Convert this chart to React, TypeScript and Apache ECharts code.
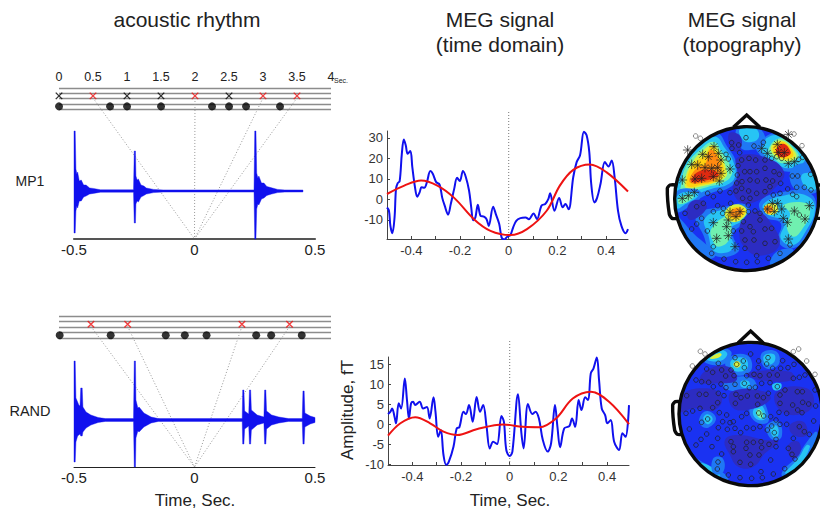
import React, { useEffect, useRef } from "react";
import * as echarts from "echarts";

const font = "Liberation Sans";
const scoreTicks = [0, 0.5, 1, 1.5, 2, 2.5, 3, 3.5, 4];
const waveTicks = [-0.5, 0, 0.5];
const megXLabels = [-0.4, -0.2, 0, 0.2, 0.4];
const megXTicks = [-0.4, -0.3, -0.2, -0.1, 0, 0.1, 0.2, 0.3, 0.4];
const meg1YLabels = [-10, 0, 10, 20, 30];
const meg2YLabels = [-10, -5, 0, 5, 10, 15];

const mp1Black = [0, 1, 1.5, 2.5];
const mp1Red = [0.5, 2, 3, 3.5];
const mp1Dots = [0, 0.75, 1, 1.5, 2.25, 2.5, 2.75, 3.25];
const randRed = [0.47, 1.01, 2.69, 3.39];
const randDots = [0.01, 0.76, 1.57, 1.85, 2.17, 2.9, 3.12, 3.57];

const mp1Upper = [[-0.5, 1], [-0.5, 60], [-0.495, 60], [-0.492, 22], [-0.488, 17], [-0.485, 19], [-0.478, 10], [-0.47, 11], [-0.46, 6], [-0.45, 6], [-0.435, 3], [-0.42, 2.6], [-0.39, 1.2], [-0.253, 1.2], [-0.25, 40], [-0.245, 40], [-0.243, 15], [-0.238, 11], [-0.233, 12], [-0.222, 6], [-0.21, 5], [-0.2, 3], [-0.17, 1.6], [-0.13, 1.1], [0.247, 1.1], [0.25, 60], [0.255, 60], [0.258, 18], [0.263, 13], [0.267, 15], [0.278, 8], [0.288, 8], [0.3, 4.5], [0.32, 3.2], [0.345, 1.6], [0.375, 1.1], [0.45, 1]];
const mp1Lower = [[-0.5, -1], [-0.5, -42], [-0.495, -42], [-0.492, -20], [-0.488, -15], [-0.485, -17], [-0.478, -10], [-0.47, -10], [-0.46, -6], [-0.45, -5], [-0.435, -3], [-0.42, -2.4], [-0.39, -1.2], [-0.253, -1.2], [-0.25, -32], [-0.245, -32], [-0.243, -13], [-0.238, -10], [-0.233, -11], [-0.222, -6], [-0.21, -4.5], [-0.2, -3], [-0.17, -1.6], [-0.13, -1.1], [0.247, -1.1], [0.25, -48], [0.255, -48], [0.258, -18], [0.263, -13], [0.267, -14], [0.278, -8], [0.288, -7], [0.3, -4.5], [0.32, -3], [0.345, -1.6], [0.375, -1.1], [0.45, -1]];
const randUpper = [[-0.5, 1.4], [-0.5, 59], [-0.495, 59], [-0.492, 22], [-0.485, 18], [-0.48, 15], [-0.475, 14], [-0.472, 32], [-0.466, 32], [-0.463, 13], [-0.45, 8], [-0.43, 5], [-0.4, 2.5], [-0.37, 1.4], [-0.253, 1.4], [-0.25, 59], [-0.245, 59], [-0.243, 20], [-0.235, 12], [-0.23, 13], [-0.21, 7], [-0.18, 3], [-0.15, 1.4], [0.198, 1.4], [0.2, 30], [0.205, 30], [0.208, 9], [0.225, 6], [0.228, 30], [0.233, 30], [0.236, 10], [0.26, 5], [0.288, 3], [0.291, 30], [0.296, 30], [0.299, 9], [0.32, 5], [0.35, 3], [0.39, 1.4], [0.447, 1.4], [0.45, 29], [0.455, 29], [0.458, 7], [0.48, 4], [0.5, 2.5]];
const randLower = [[-0.5, -1.4], [-0.5, -42], [-0.495, -42], [-0.492, -22], [-0.485, -16], [-0.48, -15], [-0.475, -14], [-0.472, -16], [-0.466, -16], [-0.463, -12], [-0.45, -8], [-0.43, -5], [-0.4, -2.5], [-0.37, -1.4], [-0.253, -1.4], [-0.25, -47], [-0.245, -47], [-0.243, -18], [-0.235, -11], [-0.23, -12], [-0.21, -7], [-0.18, -3], [-0.15, -1.4], [0.198, -1.4], [0.2, -24], [0.205, -24], [0.208, -9], [0.225, -6], [0.228, -24], [0.233, -24], [0.236, -10], [0.26, -5], [0.288, -3], [0.291, -24], [0.296, -24], [0.299, -9], [0.32, -5], [0.35, -3], [0.39, -1.4], [0.447, -1.4], [0.45, -24], [0.455, -24], [0.458, -7], [0.48, -4], [0.5, -2.5]];

const meg1Blue = [[-0.5, -4], [-0.492, -5.6], [-0.486, -13], [-0.478, -16.6], [-0.469, -8.9], [-0.463, 5.1], [-0.456, 7.9], [-0.448, 8.9], [-0.439, 22.3], [-0.431, 29.2], [-0.423, 26.4], [-0.415, 22.3], [-0.404, 23.6], [-0.396, 15.7], [-0.385, 5.9], [-0.376, 1.3], [-0.366, 3.4], [-0.358, 5.9], [-0.347, 5.6], [-0.336, 8.4], [-0.322, 13.8], [-0.312, 12.5], [-0.298, 8.4], [-0.284, 7.2], [-0.273, 0.7], [-0.263, -3.1], [-0.249, -7.5], [-0.238, -2.3], [-0.224, 5.1], [-0.212, 10.5], [-0.201, 8.9], [-0.188, 13.8], [-0.176, 10.8], [-0.163, 4.3], [-0.154, -3.9], [-0.146, -10.2], [-0.137, -8.9], [-0.127, -2.6], [-0.116, -8], [-0.102, -8.5], [-0.091, -9.7], [-0.082, -13], [-0.064, -3.6], [-0.053, -7.2], [-0.039, -12.1], [-0.029, -18.7], [-0.018, -19.6], [-0.007, -18.4], [0.007, -17.4], [0.018, -13.8], [0.031, -10.5], [0.048, -9.2], [0.069, -8.9], [0.083, -9.7], [0.102, -6.9], [0.116, -9.7], [0.135, -3], [0.15, -2.3], [0.163, 0.2], [0.17, 3], [0.188, -5.6], [0.207, 0.7], [0.222, -3.9], [0.233, -2.3], [0.246, -4.9], [0.265, 10.8], [0.279, 18.2], [0.293, 21.5], [0.309, 33], [0.32, 31.3], [0.331, 23.1], [0.339, 7.5], [0.352, -1.5], [0.363, 0.7], [0.377, 7.5], [0.395, 18.2], [0.41, 16.1], [0.423, 19], [0.435, 10.8], [0.449, -5.6], [0.463, -13], [0.48, -16.6], [0.49, -14.6]];
const meg1Red = [[-0.5, 2.6], [-0.429, 6.7], [-0.36, 9.2], [-0.293, 6.7], [-0.224, 0.7], [-0.143, -9.7], [-0.075, -15.4], [0.007, -17.5], [0.075, -14.6], [0.156, -5.6], [0.21, 6.7], [0.265, 14.4], [0.333, 17], [0.401, 13.3], [0.49, 3.8]];
const meg2Blue = [[-0.5, 2.5], [-0.49, 3.1], [-0.483, 3.9], [-0.473, 1.8], [-0.467, 0.2], [-0.456, 5.2], [-0.446, 3.9], [-0.431, 11.4], [-0.422, 6], [-0.414, 1.4], [-0.405, 5.2], [-0.397, 5.6], [-0.388, 4.8], [-0.37, 5.6], [-0.356, 3.9], [-0.34, 4.3], [-0.329, 1.4], [-0.313, 6.7], [-0.305, 3.1], [-0.294, -3.2], [-0.283, -1.5], [-0.272, -7.75], [-0.261, -10.2], [-0.25, -9.4], [-0.231, -5.7], [-0.218, -1.1], [-0.207, -0.8], [-0.19, 3.1], [-0.18, 2.5], [-0.167, 4.75], [-0.152, 0.6], [-0.136, 6.8], [-0.122, 3.1], [-0.109, 4.75], [-0.095, -0.7], [-0.082, -6.1], [-0.068, -4.4], [-0.052, -5], [-0.034, 2], [-0.024, 0.6], [-0.014, -6.5], [0, -8], [0.011, -6.9], [0.034, 7.5], [0.048, -2.3], [0.057, -6.1], [0.075, 5], [0.093, 2.5], [0.106, 3.1], [0.12, 1.4], [0.136, -4], [0.156, -6.9], [0.17, -4.8], [0.186, 4.75], [0.196, -0.7], [0.207, -5.8], [0.224, -1.1], [0.245, -0.5], [0.256, 1.4], [0.269, -0.7], [0.283, 6], [0.295, 3.5], [0.31, 6.7], [0.322, 6], [0.333, 12.7], [0.344, 13.9], [0.358, 16.7], [0.367, 11], [0.378, 3.9], [0.392, 2.25], [0.401, 0.2], [0.415, 1], [0.429, -4.4], [0.449, -6.5], [0.463, -2.3], [0.476, -3.2], [0.49, 4.75]];
const meg2Red = [[-0.5, -2.9], [-0.449, 0.2], [-0.388, 1.7], [-0.327, 0.2], [-0.272, -1.9], [-0.215, -2.75], [-0.136, -1.3], [-0.027, -0.1], [0.054, -0.7], [0.122, -0.8], [0.19, 1.4], [0.259, 6.4], [0.333, 8.1], [0.408, 5.6], [0.49, 0]];

// contour levels: [level, outline]
const jet = ["#2c2cc2", "#1a32f2", "#1f78f5", "#27c4f4", "#70f0b0", "#d8f040", "#ffd010", "#ff8a10", "#e02a10"];
const topo1Contours: any[] = [
  [1, [[60, 60], [520, 60], [520, 510], [60, 510]]],
  [2, [[78, 230], [100, 160], [140, 115], [200, 85], [232, 125], [258, 170], [262, 220], [235, 250], [190, 262], [150, 280], [115, 300], [80, 305]]],
  [3, [[85, 225], [105, 170], [145, 125], [195, 95], [225, 130], [250, 170], [255, 215], [230, 240], [190, 250], [150, 265], [110, 290], [85, 290]]],
  [4, [[95, 230], [110, 180], [150, 135], [190, 110], [215, 140], [240, 180], [245, 210], [215, 235], [175, 245], [130, 258], [95, 268]]],
  [5, [[105, 225], [125, 175], [155, 140], [190, 120], [212, 150], [228, 190], [228, 215], [190, 235], [150, 245], [110, 250]]],
  [6, [[110, 225], [130, 178], [165, 150], [185, 125], [205, 150], [222, 195], [208, 225], [150, 240], [115, 245]]],
  [7, [[118, 225], [140, 190], [165, 178], [180, 135], [200, 150], [212, 205], [195, 225], [150, 235], [125, 235]]],
  [8, [[124, 225], [145, 200], [185, 195], [205, 208], [190, 220], [150, 230], [128, 232]]],
  [2, [[320, 120], [390, 82], [445, 125], [475, 170], [420, 200], [370, 180], [330, 150]]],
  [3, [[330, 115], [390, 90], [440, 130], [465, 165], [420, 190], [370, 170], [335, 140]]],
  [4, [[355, 135], [390, 100], [432, 130], [445, 160], [400, 175], [370, 158]]],
  [5, [[362, 132], [392, 106], [428, 132], [438, 158], [398, 166]]],
  [6, [[368, 130], [395, 110], [425, 135], [428, 155], [395, 160]]],
  [8, [[378, 135], [400, 116], [422, 140], [415, 152], [390, 155]]],
  [2, [[262, 70], [325, 68], [345, 115], [300, 135], [270, 125]]],
  [3, [[270, 72], [318, 72], [325, 100], [295, 112], [275, 100]]],
  [2, [[430, 185], [490, 185], [503, 255], [470, 265], [425, 240]]],
  [3, [[455, 210], [495, 210], [500, 250], [470, 250]]],
  [2, [[330, 290], [395, 262], [475, 262], [500, 310], [475, 385], [430, 430], [385, 410], [392, 355], [345, 335]]],
  [3, [[340, 298], [400, 272], [470, 272], [495, 310], [468, 378], [430, 420], [392, 400], [402, 350], [352, 328]]],
  [4, [[400, 300], [470, 295], [480, 325], [455, 375], [430, 395], [410, 365], [420, 325]]],
  [5, [[345, 302], [372, 295], [385, 315], [365, 330], [345, 322]]],
  [7, [[342, 308], [360, 302], [370, 315], [355, 326]]],
  [2, [[140, 330], [225, 305], [290, 300], [295, 345], [250, 385], [265, 440], [190, 450], [160, 390]]],
  [3, [[165, 340], [230, 312], [285, 310], [285, 340], [240, 375], [250, 430], [195, 440], [175, 390]]],
  [4, [[185, 370], [225, 335], [240, 345], [240, 400], [205, 425], [185, 400]]],
  [5, [[225, 322], [258, 298], [290, 315], [272, 345], [238, 348]]],
  [6, [[235, 320], [260, 305], [285, 318], [270, 340], [240, 340]]],
  [7, [[243, 320], [262, 310], [278, 320], [264, 335], [246, 335]]],
  [2, [[78, 262], [135, 252], [155, 272], [110, 310], [80, 320]]],
  [3, [[82, 272], [130, 260], [145, 272], [105, 298], [82, 310]]],
  [4, [[85, 282], [125, 268], [130, 278], [90, 298]]],
  [2, [[80, 335], [130, 385], [195, 450], [160, 460], [100, 400]]],
  [2, [[380, 440], [430, 435], [390, 470], [360, 480]]],
  [0, [[238, 85], [272, 95], [268, 138], [244, 132]]],
  [0, [[262, 158], [340, 155], [402, 200], [372, 252], [312, 292], [272, 292], [248, 252], [262, 212]]],
  [0, [[280, 342], [320, 320], [360, 350], [388, 420], [330, 452], [282, 425], [268, 382]]],
  [0, [[115, 300], [150, 285], [170, 310], [120, 345]]]
];
const topo2Contours: any[] = [
  [1, [[70, 40], [530, 40], [530, 495], [70, 495]]],
  [2, [[160, 105], [218, 70], [245, 85], [215, 120]]],
  [3, [[170, 102], [215, 76], [232, 88], [210, 108]]],
  [5, [[180, 100], [208, 84], [215, 90], [200, 100]]],
  [2, [[232, 100], [290, 90], [305, 132], [270, 152], [232, 135]]],
  [3, [[245, 105], [285, 100], [292, 130], [265, 140], [245, 130]]],
  [5, [[250, 118], [262, 108], [272, 120], [260, 128]]],
  [2, [[335, 85], [380, 80], [385, 120], [345, 128]]],
  [3, [[342, 92], [372, 88], [372, 112], [348, 118]]],
  [2, [[220, 185], [240, 160], [305, 160], [318, 192], [270, 200]]],
  [3, [[272, 170], [295, 168], [298, 185], [275, 186]]],
  [3, [[368, 178], [392, 175], [392, 192], [372, 195]]],
  [2, [[150, 275], [172, 258], [198, 280], [175, 308], [152, 300]]],
  [3, [[160, 280], [173, 268], [188, 282], [173, 298]]],
  [2, [[300, 245], [332, 225], [355, 265], [350, 295], [310, 285]]],
  [3, [[310, 255], [330, 238], [348, 270], [340, 285], [315, 278]]],
  [4, [[318, 262], [328, 252], [340, 272], [330, 280]]],
  [2, [[350, 300], [385, 290], [395, 335], [370, 345], [352, 325]]],
  [3, [[362, 310], [380, 302], [385, 330], [370, 336]]],
  [2, [[395, 445], [440, 395], [475, 345], [500, 320], [498, 365], [450, 430], [415, 465]]],
  [3, [[405, 445], [445, 400], [470, 360], [480, 365], [445, 425]]],
  [2, [[120, 395], [165, 415], [235, 460], [190, 475], [140, 440]]],
  [3, [[150, 415], [190, 430], [210, 455], [165, 445]]],
  [2, [[190, 400], [218, 400], [220, 440], [190, 445]]],
  [0, [[170, 135], [235, 125], [260, 165], [200, 175], [150, 170]]],
  [0, [[290, 145], [420, 140], [430, 165], [330, 165]]],
  [0, [[95, 210], [170, 190], [215, 215], [195, 255], [130, 250], [92, 260]]],
  [0, [[245, 200], [345, 200], [360, 225], [290, 255], [245, 245]]],
  [0, [[380, 200], [470, 190], [490, 240], [440, 270], [385, 250]]],
  [0, [[225, 345], [265, 330], [345, 345], [385, 350], [345, 385], [310, 425], [265, 425], [240, 390]]],
  [0, [[415, 360], [445, 350], [450, 385], [425, 400]]],
  [0, [[420, 300], [460, 290], [470, 330], [430, 330]]]
];

const topo1Sensors = [[288, 98], [340, 112], [312, 123], [245, 113], [266, 120], [246, 130], [269, 143], [228, 148], [235, 162], [275, 165], [297, 160], [317, 165], [345, 165], [365, 160], [380, 155], [395, 160], [458, 157], [446, 163], [427, 213], [443, 213], [482, 208], [345, 190], [300, 200], [284, 200], [264, 182], [260, 234], [276, 230], [300, 225], [322, 228], [348, 225], [372, 200], [388, 208], [368, 228], [392, 235], [413, 252], [440, 247], [463, 247], [483, 255], [390, 265], [428, 268], [440, 275], [370, 270], [345, 260], [320, 265], [296, 258], [275, 250], [258, 258], [240, 263], [210, 258], [190, 275], [173, 265], [140, 305], [160, 295], [105, 325], [155, 340], [140, 357], [125, 372], [172, 378], [190, 320], [203, 302], [220, 310], [242, 295], [218, 325], [295, 300], [295, 320], [315, 318], [330, 325], [280, 350], [250, 378], [275, 378], [300, 365], [345, 372], [365, 370], [312, 405], [285, 405], [345, 415], [375, 410], [390, 445], [320, 452], [355, 460], [322, 470], [290, 472], [257, 470], [222, 462], [185, 445], [190, 425], [420, 420], [448, 330], [285, 430], [330, 345], [310, 380], [278, 280], [300, 280], [262, 210], [320, 200], [360, 245]];
const topo1Outside = [[137, 93], [151, 100], [432, 87], [456, 122]];
const topo1Stars = [[113, 135], [158, 148], [175, 155], [192, 125], [205, 145], [213, 165], [125, 178], [143, 180], [165, 188], [185, 190], [203, 188], [240, 192], [213, 205], [190, 215], [208, 228], [135, 222], [155, 220], [97, 225], [97, 280], [115, 272], [133, 262], [335, 130], [352, 145], [382, 118], [385, 142], [403, 143], [415, 175], [433, 170], [415, 88], [478, 302], [433, 318], [465, 342], [415, 402], [412, 352], [400, 340], [395, 312], [383, 295], [367, 295], [352, 312], [373, 320], [240, 322], [270, 320], [258, 335], [235, 345], [230, 365], [190, 353], [235, 392], [200, 400], [255, 425]];
const topo2Sensors = [[205, 115], [255, 98], [280, 108], [260, 118], [283, 128], [243, 135], [252, 152], [170, 132], [188, 142], [138, 165], [155, 170], [176, 172], [190, 185], [215, 135], [227, 153], [213, 177], [228, 188], [255, 178], [283, 175], [298, 188], [316, 187], [335, 175], [290, 152], [312, 148], [330, 152], [358, 150], [382, 150], [302, 87], [326, 108], [354, 98], [350, 117], [325, 128], [368, 130], [392, 130], [414, 128], [398, 107], [432, 118], [465, 150], [448, 157], [430, 160], [405, 195], [382, 185], [360, 173], [110, 212], [148, 208], [168, 208], [205, 205], [222, 212], [203, 233], [258, 208], [273, 218], [292, 213], [256, 235], [322, 213], [340, 218], [355, 205], [390, 210], [390, 235], [442, 200], [457, 200], [495, 195], [458, 232], [476, 237], [497, 243], [428, 240], [443, 255], [456, 263], [491, 288], [108, 265], [128, 258], [150, 250], [188, 248], [208, 263], [230, 270], [218, 290], [155, 292], [173, 282], [118, 312], [205, 308], [232, 313], [250, 290], [240, 293], [275, 275], [290, 265], [323, 238], [326, 264], [341, 273], [362, 275], [378, 285], [387, 262], [410, 265], [390, 298], [365, 303], [410, 298], [448, 305], [463, 320], [478, 328], [430, 340], [373, 323], [352, 315], [330, 305], [310, 310], [290, 308], [255, 310], [272, 323], [170, 327], [153, 343], [138, 360], [203, 340], [186, 365], [243, 350], [250, 365], [290, 352], [310, 352], [333, 350], [357, 358], [378, 343], [378, 365], [335, 368], [288, 370], [250, 380], [215, 387], [300, 390], [327, 390], [415, 370], [426, 388], [435, 402], [362, 405], [270, 412], [302, 418], [204, 411], [202, 432], [235, 450], [270, 458], [305, 460], [333, 440], [337, 458], [370, 447], [404, 431]];
const topo2Outside = [[151, 79], [165, 87], [127, 123], [430, 80], [446, 72], [470, 108], [495, 148]];

const xMark = "path://M0 0L10 10M10 0L0 10";
const asterisk = "path://M5 0L5 10M0 5L10 5M1.5 1.5L8.5 8.5M8.5 1.5L1.5 8.5";
const blue = "#1010ee";
const red = "#ee1212";
const tickColor = "#333";

function band(xi: number, upper: number[][], lower: number[][]) {
  return {
    type: "custom", xAxisIndex: xi, yAxisIndex: xi, data: [[0, 0]], z: 3,
    renderItem: (_p: any, api: any) => ({
      type: "polygon",
      shape: { points: upper.concat(lower.slice().reverse()).map((p) => api.coord(p)) },
      style: { fill: blue, stroke: blue, lineWidth: 0.4 }
    })
  };
}

function contours(xi: number, list: any[], cx: number, cy: number, r: number) {
  return {
    type: "custom", xAxisIndex: xi, yAxisIndex: xi, z: 2,
    data: list.map((_c, i) => [0, i]),
    renderItem: (p: any, api: any) => {
      const c = list[p.dataIndex];
      const center = api.coord([cx, cy]);
      const rad = api.size([r, r])[0];
      return {
        type: "polygon",
        shape: { points: c[1].map((q: number[]) => api.coord(q)), smooth: 0.45 },
        style: { fill: jet[c[0]] },
        clipPath: { type: "circle", shape: { cx: center[0], cy: center[1], r: rad } }
      };
    }
  };
}

function head(xi: number, cx: number, cy: number, r: number, noseH: number, noseW: number, earX: number, earTop: number, earBot: number) {
  const line = { fill: "none", stroke: "#0a0a0a", lineWidth: 3.4 };
  return {
    type: "custom", xAxisIndex: xi, yAxisIndex: xi, z: 4, data: [[0, 0]],
    renderItem: (_p: any, api: any) => {
      const c = api.coord([cx, cy]);
      const pts = (a: number[][]) => a.map((q) => api.coord(q));
      return {
        type: "group",
        children: [
          { type: "circle", shape: { cx: c[0], cy: c[1], r: api.size([r, r])[0] }, style: line },
          { type: "polyline", shape: { points: pts([[cx - noseW, cy - r + 2], [cx, cy - r - noseH], [cx + noseW, cy - r + 2]]) }, style: line },
          { type: "polyline", shape: { points: pts([[cx - r + 6, earTop], [earX + 8, earTop], [earX, earTop + 10], [earX + 6, earBot - 12], [earX + 14, earBot], [cx - r + 10, earBot]]), smooth: 0.2 }, style: line },
          { type: "polyline", shape: { points: pts([[cx + r - 6, earTop], [cx + r + 24, earTop], [cx + r + 24, earBot], [cx + r - 10, earBot]]) }, style: line }
        ]
      };
    }
  };
}

const sensors = (xi: number, data: number[][], color: string) => ({
  type: "scatter", xAxisIndex: xi, yAxisIndex: xi, data, symbol: "circle", symbolSize: 4.6, z: 5, clip: false,
  itemStyle: { color: "rgba(0,0,0,0)", borderColor: color, borderWidth: 0.9, opacity: 0.85 }
});

const megLine = (xi: number, data: number[][], color: string, width: number, z: number) => ({
  type: "line", xAxisIndex: xi, yAxisIndex: xi, data, smooth: 0.35, showSymbol: false, z,
  lineStyle: { color, width }, itemStyle: { color }
});

const scatterMark = (xi: number, data: number[][], color: string) => ({
  type: "scatter", xAxisIndex: xi, yAxisIndex: xi, data, symbol: xMark, symbolSize: 6.5, z: 4,
  itemStyle: { color: "none", borderColor: color, borderWidth: 1.4 }
});

const dots = (xi: number, data: number[][]) => ({
  type: "scatter", xAxisIndex: xi, yAxisIndex: xi, data, symbol: "circle", symbolSize: 8, z: 4,
  itemStyle: { color: "#000" }
});

const rowX = 2.5;
const rowDot = 0.5;
const at = (xs: number[], y: number) => xs.map((x) => [x, y]);

export default function App() {
  const ref = useRef<HTMLDivElement>(null);
  useEffect(() => {
    const chart = echarts.init(ref.current!, null, { renderer: "svg" });
    const label = { fontFamily: font, color: "#222" };
    const hidden = { show: false };
    const scoreX = (g: number, show: boolean) => ({
      gridIndex: g, type: "value", min: 0, max: 4, interval: 0.5, position: "top", axisLine: hidden, axisTick: hidden, splitLine: hidden,
      axisLabel: { show, ...label, fontSize: 12.5, margin: 5, hideOverlap: false, showMinLabel: true, showMaxLabel: true, customValues: scoreTicks }
    });
    const scoreY = (g: number) => ({ gridIndex: g, type: "value", min: 0, max: 4, interval: 1, axisLine: hidden, axisTick: hidden, axisLabel: hidden, splitLine: { show: true, lineStyle: { color: "#8c8c8c", width: 1.4 } } });
    const waveX = (g: number, color: string, w: number) => ({
      gridIndex: g, type: "value", min: -0.5, max: 0.5, interval: 0.5, axisLine: { onZero: false, lineStyle: { color, width: w } }, axisTick: hidden, splitLine: hidden,
      axisLabel: { ...label, fontSize: 15, margin: 3, customValues: waveTicks, showMinLabel: true, showMaxLabel: true }
    });
    const waveY = (g: number, min: number, max: number) => ({ gridIndex: g, type: "value", min, max, show: false, splitLine: hidden });
    const megX = (g: number) => ({
      gridIndex: g, type: "value", min: -0.5, max: 0.49, axisLine: { onZero: false, lineStyle: { color: "#444", width: 1 } }, splitLine: hidden,
      axisTick: { inside: true, length: 3, lineStyle: { color: "#444" }, customValues: megXTicks },
      axisLabel: { ...label, color: tickColor, fontSize: 13, margin: 5, customValues: megXLabels }
    });
    const megY = (g: number, min: number, max: number, vals: number[]) => ({
      gridIndex: g, type: "value", min, max, axisLine: { onZero: false, lineStyle: { color: "#444", width: 1 } }, splitLine: hidden,
      axisTick: { inside: true, length: 3, lineStyle: { color: "#444" }, customValues: vals },
      axisLabel: { ...label, color: tickColor, fontSize: 13, margin: 4, customValues: vals }
    });
    const topoX = (g: number) => ({ gridIndex: g, type: "value", min: 0, max: 510, show: false, splitLine: hidden });
    const topoY = (g: number) => ({ gridIndex: g, type: "value", min: 0, max: 540, inverse: true, show: false, splitLine: hidden });
    const ttl = (text: string, left: number, top: number, fontSize: number) => ({
      text, left, top, padding: 0, textAlign: "center", textStyle: { ...label, fontSize, fontWeight: "normal" }
    });

    const amplitude = { type: "text", x: 347, y: 410, rotation: Math.PI / 2, style: { text: "Amplitude, fT", font: `17px "${font}"`, fill: "#222", align: "center", verticalAlign: "middle" } };

    chart.setOption({
      animation: false,
      backgroundColor: "#fff",
      title: [
        ttl("acoustic rhythm", 187, 9, 21),
        ttl("MEG signal", 500, 9, 21),
        ttl("(time domain)", 500, 34, 21),
        ttl("MEG signal", 742, 9, 21),
        ttl("(topography)", 742, 34, 21),
        ttl("MP1", 30, 174, 14),
        ttl("RAND", 30, 403, 14.5),
        ttl("Time, Sec.", 195, 492, 17),
        ttl("Time, Sec.", 510, 492, 17),
        ttl("Sec.", 341, 77, 7)
      ],
      grid: [
        { left: 59, top: 88, width: 272, height: 21 },
        { left: 74, top: 119, width: 241, height: 120 },
        { left: 387, top: 131, width: 241, height: 108 },
        { left: 650, top: 105, width: 170, height: 180 },
        { left: 59, top: 316, width: 272, height: 22 },
        { left: 74, top: 347, width: 241, height: 120 },
        { left: 388, top: 357, width: 241, height: 108 },
        { left: 650, top: 325, width: 170, height: 180 }
      ],
      xAxis: [scoreX(0, true), waveX(1, "#555", 2.2), megX(2), topoX(3), scoreX(4, false), waveX(5, "#222", 1), megX(6), topoX(7)],
      yAxis: [
        scoreY(0), waveY(1, -48, 72), megY(2, -19.4, 33.4, meg1YLabels), topoY(3),
        scoreY(4), waveY(5, -47, 73), megY(6, -10.25, 16.8, meg2YLabels), topoY(7)
      ],
      series: [
        scatterMark(0, at(mp1Black, rowX), "#000"),
        scatterMark(0, at(mp1Red, rowX), red),
        dots(0, at(mp1Dots, rowDot)),
        band(1, mp1Upper, mp1Lower),
        { type: "line", xAxisIndex: 2, yAxisIndex: 2, data: [[0, -19.4], [0, 43]], clip: false, showSymbol: false, z: 1, lineStyle: { color: "#777", width: 1, type: [1, 2] } },
        megLine(2, meg1Blue, blue, 2, 3),
        megLine(2, meg1Red, red, 2, 4),
        contours(3, topo1Contours, 290, 281, 216),
        sensors(3, topo1Sensors, "#222"),
        sensors(3, topo1Outside, "#666"),
        { type: "scatter", xAxisIndex: 3, yAxisIndex: 3, data: topo1Stars, symbol: asterisk, symbolSize: 9.5, z: 6, clip: false, itemStyle: { color: "none", borderColor: "#222", borderWidth: 0.9 } },
        head(3, 290, 281, 216, 35, 40, 52, 240, 340),
        scatterMark(4, at(randRed, rowX), red),
        dots(4, at(randDots, rowDot)),
        band(5, randUpper, randLower),
        { type: "line", xAxisIndex: 6, yAxisIndex: 6, data: [[0, -10.25], [0, 21]], clip: false, showSymbol: false, z: 1, lineStyle: { color: "#777", width: 1, type: [1, 2] } },
        megLine(6, meg2Blue, blue, 2, 3),
        megLine(6, meg2Red, red, 2, 4),
        contours(7, topo2Contours, 302, 267, 215),
        sensors(7, topo2Sensors, "#222"),
        sensors(7, topo2Outside, "#666"),
        head(7, 302, 267, 215, 34, 38, 68, 230, 328)
      ],
      graphic: [amplitude]
    });

    const connect = (xi: number, xs: number[], yMin: number) =>
      xs.map((s) => {
        const a = chart.convertToPixel({ xAxisIndex: xi, yAxisIndex: xi }, [s, rowX - 0.4]);
        const b = chart.convertToPixel({ xAxisIndex: xi + 1, yAxisIndex: xi + 1 }, [0, yMin]);
        return {
          type: "line", z: 0,
          shape: { x1: a[0], y1: a[1], x2: b[0], y2: b[1] },
          style: { stroke: "#999", lineWidth: 1, lineDash: [1, 2] }
        };
      });
    chart.setOption({
      graphic: [amplitude, ...connect(0, mp1Red, -48), ...connect(4, randRed, -47)]
    }, { replaceMerge: ["graphic"] });
    return () => chart.dispose();
  }, []);
  return <div ref={ref} style={{ position: "absolute", left: 0, top: 0, width: 820, height: 510 }} />;
}
